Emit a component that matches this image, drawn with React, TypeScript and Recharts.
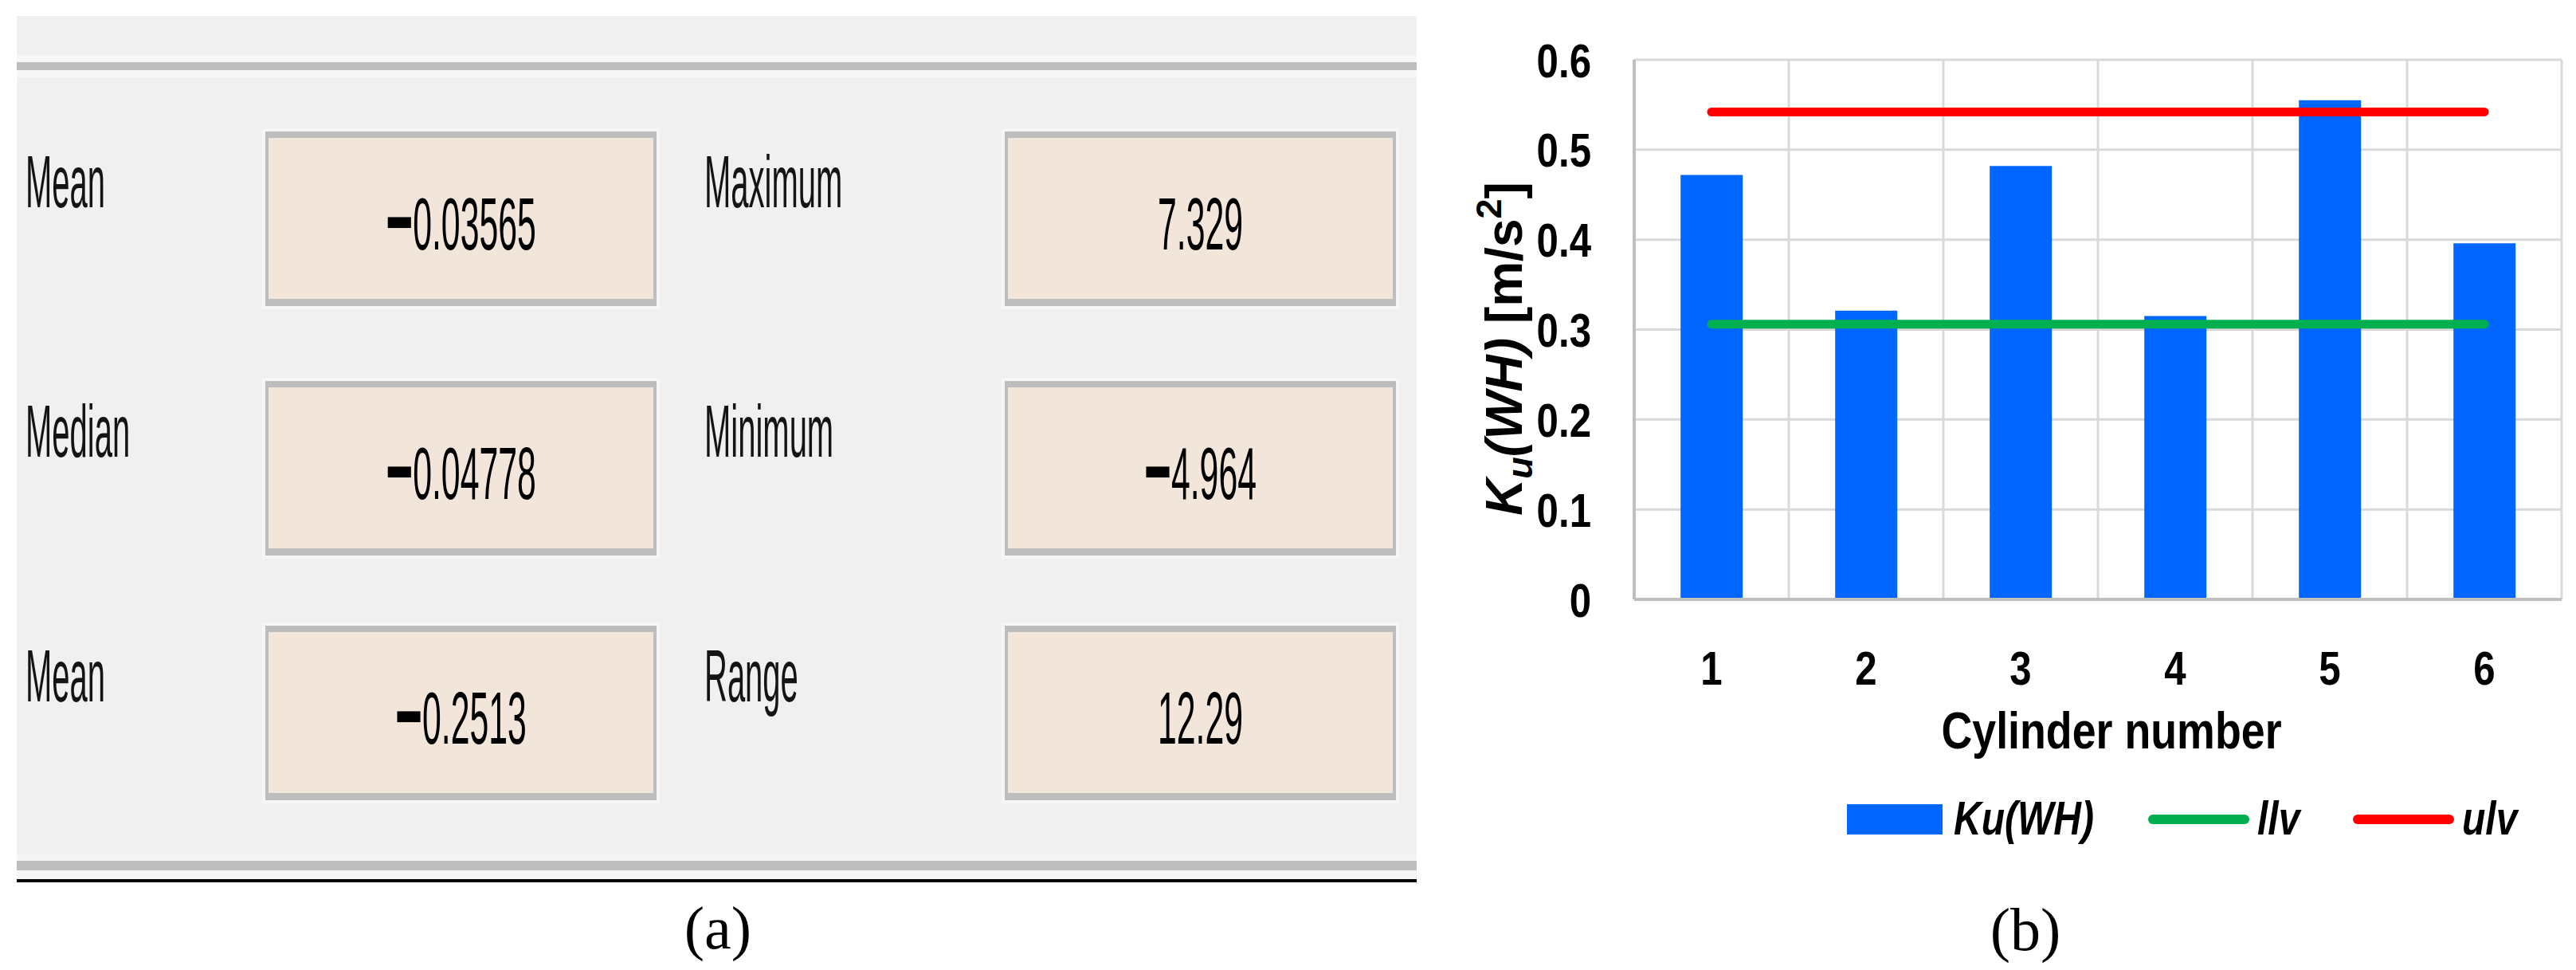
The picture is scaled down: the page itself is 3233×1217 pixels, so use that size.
import React from 'react';
import { ComposedChart, Bar, Line, XAxis, YAxis, CartesianGrid, Legend, Label } from 'recharts';

// ---------- data ----------
const cylinders = ['1', '2', '3', '4', '5', '6'];
const kuWH = [0.472, 0.321, 0.482, 0.315, 0.555, 0.396];
const llv = [0.306, 0.306, 0.306, 0.306, 0.306, 0.306];
const ulv = [0.542, 0.542, 0.542, 0.542, 0.542, 0.542];
const yTicks = [0, 0.1, 0.2, 0.3, 0.4, 0.5, 0.6];

const leftLabels = ['Mean', 'Median', 'Mean'];
const leftValues = ['−0.03565', '−0.04778', '−0.2513'];
const rightLabels = ['Maximum', 'Minimum', 'Range'];
const rightValues = ['7.329', '−4.964', '12.29'];

const data = cylinders.map((c, i) => ({ cylinder: c, ku: kuWH[i], llv: llv[i], ulv: ulv[i] }));

// ---------- styles ----------
const SANS = '"Liberation Sans", Arial, sans-serif';
const SERIF = '"Liberation Serif", "DejaVu Serif", serif';
const NARROW = 0.82;
const BLUE = '#0066FF';
const GREEN = '#00B050';
const RED = '#FF0000';
const GRID = '#D9D9D9';
const AXIS = '#BFBFBF';

// ---------- panel (a) ----------
const rowTops = [165, 478, 785];
const BOX_H = 219;
const colBoxX = [333, 1261];
const BOX_W = 491;
const colLabelX = [32, 884];

const ValueText = ({ cx, baseline, text }: { cx: number; baseline: number; text: string }) => {
  const neg = text.startsWith('−');
  const body = neg ? text.slice(1) : text;
  return (
    <text
      transform={`translate(${cx},${baseline}) scale(0.465,1)`}
      textAnchor="middle"
      fontFamily={SANS}
      fontSize={92}
      fill="#000"
    >
      {neg && (
        <tspan fontWeight="bold" fontSize={125} dy={8}>
          −
        </tspan>
      )}
      <tspan dy={neg ? -8 : 0}>{body}</tspan>
    </text>
  );
};

const StatBox = ({ x, y }: { x: number; y: number }) => (
  <g>
    <rect x={x - 4} y={y - 4} width={BOX_W + 8} height={BOX_H + 8} fill="#F6F6F6" />
    <rect x={x} y={y} width={BOX_W} height={BOX_H} fill="#BDBDBD" />
    <rect x={x + 4} y={y + 8} width={BOX_W - 8} height={BOX_H - 17} fill="#F2E6DA" />
  </g>
);

const PanelA = () => {
  const rows = [0, 1, 2];
  return (
    <svg width={3233} height={1217} style={{ position: 'absolute', left: 0, top: 0 }}>
      <rect x={0} y={0} width={3233} height={1217} fill="#FFFFFF" />
      <rect x={21} y={20} width={1757} height={1083} fill="#F0F0F0" />
      {/* top separator */}
      <rect x={21} y={70} width={1757} height={8} fill="#F7F7F7" />
      <rect x={21} y={78} width={1757} height={10} fill="#BEBEBE" />
      <rect x={21} y={88} width={1757} height={9} fill="#F7F7F7" />
      {/* bottom separator */}
      <rect x={21} y={1072} width={1757} height={8} fill="#F5F5F5" />
      <rect x={21} y={1080} width={1757} height={12} fill="#BEBEBE" />
      <rect x={21} y={1092} width={1757} height={11} fill="#F5F5F5" />
      <rect x={21} y={1103} width={1757} height={4} fill="#000000" />
      {rows.map((r) => (
        <g key={r}>
          <text
            transform={`translate(${colLabelX[0]},${rowTops[r] + 95}) scale(0.43,1)`}
            fontFamily={SANS}
            fontSize={93}
            fill="#141414"
          >
            {leftLabels[r]}
          </text>
          <text
            transform={`translate(${colLabelX[1]},${rowTops[r] + 95}) scale(0.43,1)`}
            fontFamily={SANS}
            fontSize={93}
            fill="#141414"
          >
            {rightLabels[r]}
          </text>
          <StatBox x={colBoxX[0]} y={rowTops[r]} />
          <StatBox x={colBoxX[1]} y={rowTops[r]} />
          <ValueText cx={colBoxX[0] + BOX_W / 2} baseline={rowTops[r] + 148} text={leftValues[r]} />
          <ValueText cx={colBoxX[1] + BOX_W / 2} baseline={rowTops[r] + 148} text={rightValues[r]} />
        </g>
      ))}
      <text x={901} y={1190} textAnchor="middle" fontFamily={SERIF} fontSize={76} fill="#000">
        (a)
      </text>
      <text x={2542} y={1192} textAnchor="middle" fontFamily={SERIF} fontSize={76} fill="#000">
        (b)
      </text>
    </svg>
  );
};

// ---------- panel (b) ----------
const YTick = (props: any) => {
  const { x, y, payload } = props;
  const v = payload.value as number;
  const label = v === 0 ? '0' : v.toFixed(1);
  return (
    <text
      transform={`translate(${x},${y}) scale(${NARROW},1)`}
      textAnchor="end"
      dy="0.36em"
      fontFamily={SANS}
      fontWeight="bold"
      fontSize={60}
      fill="#000"
    >
      {label}
    </text>
  );
};

const XTick = (props: any) => {
  const { x, y, payload } = props;
  return (
    <text
      transform={`translate(${x},${y}) scale(${NARROW},1)`}
      textAnchor="middle"
      dy="0.716em"
      fontFamily={SANS}
      fontWeight="bold"
      fontSize={60}
      fill="#000"
    >
      {payload.value}
    </text>
  );
};

const YTitle = (props: any) => {
  const vb = props.viewBox || { x: 0, y: 0, width: 0, height: 0 };
  const cx = vb.x + 107;
  const cy = vb.y + vb.height / 2 + 24;
  return (
    <text
      transform={`translate(${cx},${cy}) rotate(-90)`}
      textAnchor="middle"
      dy="0.36em"
      fontFamily={SANS}
      fontWeight="bold"
      fontSize={64}
      fill="#000"
    >
      <tspan fontStyle="italic">K</tspan>
      <tspan fontStyle="italic" fontSize={45} dy={13}>
        u
      </tspan>
      <tspan fontStyle="italic" dy={-13}>
        (WH)
      </tspan>
      <tspan> [m/s</tspan>
      <tspan fontSize={45} dy={-26}>
        2
      </tspan>
      <tspan dy={26}>]</tspan>
    </text>
  );
};

const XTitle = (props: any) => {
  const vb = props.viewBox || { x: 0, y: 0, width: 0, height: 0 };
  const cx = vb.x + vb.width / 2 + 17;
  const by = vb.y + 187;
  return (
    <text
      transform={`translate(${cx},${by}) scale(0.84,1)`}
      textAnchor="middle"
      fontFamily={SANS}
      fontWeight="bold"
      fontSize={64}
      fill="#000"
    >
      Cylinder number
    </text>
  );
};

const legendOffsets = [0, 378, 635];
const LegendContent = (props: any) => {
  const payload = (props.payload || []) as any[];
  return (
    <svg width={900} height={90} style={{ overflow: 'visible', display: 'block' }}>
      {payload.map((p, i) => {
        const x0 = legendOffsets[i] ?? i * 300;
        const isBar = p.type === 'rect' || p.type === 'square';
        return (
          <g key={p.value}>
            {isBar ? (
              <rect x={x0} y={19} width={120} height={38} fill={p.color} />
            ) : (
              <line
                x1={x0 + 6}
                x2={x0 + 121}
                y1={38}
                y2={38}
                stroke={p.color}
                strokeWidth={12}
                strokeLinecap="round"
              />
            )}
            <text
              transform={`translate(${x0 + (isBar ? 134 : 137)},${57}) scale(0.8,1)`}
              fontFamily={SANS}
              fontWeight="bold"
              fontStyle="italic"
              fontSize={60}
              fill="#000"
            >
              {p.value}
            </text>
          </g>
        );
      })}
    </svg>
  );
};

const ChartB = () => (
  <ComposedChart
    width={1453}
    height={1217}
    data={data}
    margin={{ top: 75, right: 18, bottom: 265, left: 0 }}
    barCategoryGap="30%"
  >
    <CartesianGrid
      stroke={GRID}
      strokeWidth={3}
      horizontal={true}
      vertical={true}
      verticalCoordinatesGenerator={({ offset }: any) =>
        cylinders.map((_, i) => offset.left + (i * offset.width) / cylinders.length).concat([offset.left + offset.width])
      }
    />
    <XAxis
      dataKey="cylinder"
      height={200}
      axisLine={{ stroke: AXIS, strokeWidth: 4 }}
      tickLine={false}
      tickSize={0}
      tickMargin={64}
      tick={<XTick />}
      interval={0}
    >
      <Label content={<XTitle />} />
    </XAxis>
    <YAxis
      width={271}
      domain={[0, 0.6]}
      ticks={yTicks}
      type="number"
      axisLine={{ stroke: AXIS, strokeWidth: 4 }}
      tickLine={false}
      tickSize={0}
      tickMargin={54}
      tick={<YTick />}
      interval={0}
    >
      <Label content={<YTitle />} />
    </YAxis>
    <Bar dataKey="ku" name="Ku(WH)" fill={BLUE} legendType="rect" isAnimationActive={false} />
    <Line
      dataKey="llv"
      name="llv"
      stroke={GREEN}
      strokeWidth={11}
      strokeLinecap="round"
      dot={false}
      activeDot={false}
      legendType="line"
      type="linear"
      isAnimationActive={false}
    />
    <Line
      dataKey="ulv"
      name="ulv"
      stroke={RED}
      strokeWidth={11}
      strokeLinecap="round"
      dot={false}
      activeDot={false}
      legendType="line"
      type="linear"
      isAnimationActive={false}
    />
    <Legend
      layout="horizontal"
      verticalAlign="middle"
      align="center"
      content={<LegendContent />}
      wrapperStyle={{ left: 538, top: 990, width: 900, height: 90 }}
    />
  </ComposedChart>
);

export default function App() {
  return (
    <div style={{ position: 'absolute', left: 0, top: 0, width: 3233, height: 1217, background: '#fff', overflow: 'hidden' }}>
      <PanelA />
      <div style={{ position: 'absolute', left: 1780, top: 0 }}>
        <ChartB />
      </div>
    </div>
  );
}
